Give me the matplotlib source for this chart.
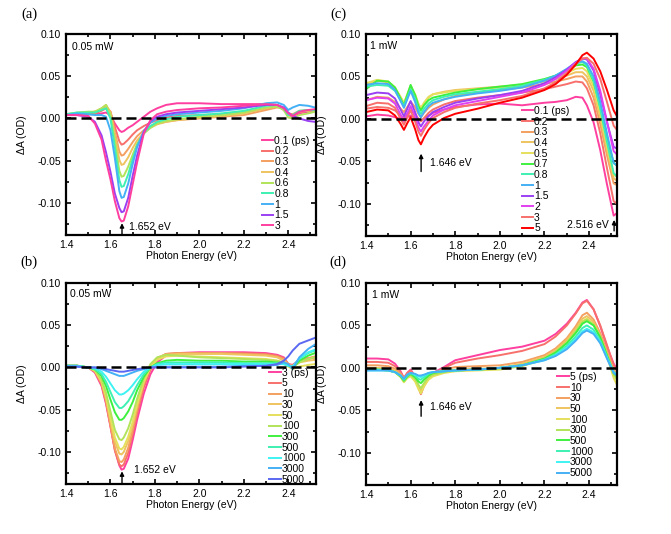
import matplotlib
matplotlib.use("Agg")
import matplotlib.pyplot as plt
from matplotlib.ticker import MultipleLocator, FormatStrFormatter

plt.rcParams['font.family'] = ['Liberation Sans', 'DejaVu Sans']

# ---------------- data ----------------
E_ab = [1.40, 1.45, 1.50, 1.53, 1.56, 1.58, 1.60, 1.62, 1.64, 1.65, 1.66, 1.68, 1.70, 1.72, 1.75,
        1.78, 1.81, 1.85, 1.90, 2.00, 2.10, 2.20, 2.30, 2.35, 2.38, 2.40, 2.42, 2.45, 2.49, 2.52]
E_cd = [1.40, 1.45, 1.50, 1.53, 1.555, 1.57, 1.585, 1.60, 1.62, 1.635, 1.646, 1.66, 1.68, 1.70, 1.75,
        1.80, 1.90, 2.00, 2.10, 2.20, 2.25, 2.30, 2.34, 2.37, 2.39, 2.42, 2.45, 2.48, 2.51, 2.525]

labels_a = ["0.1 (ps)", "0.2", "0.3", "0.4", "0.6", "0.8", "1", "1.5", "3"]
dA_a = [
    [0.004, 0.005, 0.005, 0.005, 0.006, 0.007, 0.004, -0.006, -0.014, -0.016, -0.015, -0.011, -0.008, -0.004, 0.002, 0.008, 0.012, 0.016, 0.018, 0.018, 0.017, 0.017, 0.017, 0.016, 0.010, 0.004, 0.002, 0.006, 0.008, 0.010],
    [0.004, 0.005, 0.006, 0.006, 0.009, 0.012, 0.008, -0.010, -0.027, -0.031, -0.030, -0.025, -0.019, -0.014, -0.009, -0.005, -0.002, 0.001, 0.003, 0.004, 0.005, 0.007, 0.012, 0.014, 0.012, 0.006, 0.004, 0.008, 0.009, 0.010],
    [0.004, 0.006, 0.007, 0.008, 0.011, 0.015, 0.008, -0.016, -0.039, -0.044, -0.043, -0.036, -0.028, -0.021, -0.014, -0.009, -0.006, -0.004, -0.002, 0.000, 0.002, 0.004, 0.010, 0.013, 0.012, 0.006, 0.005, 0.009, 0.010, 0.010],
    [0.005, 0.006, 0.007, 0.008, 0.012, 0.016, 0.007, -0.020, -0.049, -0.055, -0.054, -0.046, -0.035, -0.026, -0.017, -0.011, -0.007, -0.004, -0.002, 0.001, 0.003, 0.006, 0.012, 0.014, 0.012, 0.004, 0.003, 0.008, 0.009, 0.010],
    [0.005, 0.007, 0.008, 0.008, 0.012, 0.016, 0.005, -0.026, -0.062, -0.069, -0.068, -0.057, -0.043, -0.030, -0.018, -0.011, -0.006, -0.003, -0.001, 0.002, 0.004, 0.007, 0.013, 0.014, 0.010, 0.001, 0.000, 0.004, 0.006, 0.008],
    [0.005, 0.007, 0.007, 0.007, 0.010, 0.012, 0.000, -0.035, -0.073, -0.081, -0.080, -0.066, -0.048, -0.032, -0.017, -0.009, -0.004, -0.001, 0.002, 0.004, 0.006, 0.009, 0.015, 0.016, 0.012, 0.004, 0.004, 0.009, 0.010, 0.010],
    [0.004, 0.006, 0.005, 0.004, 0.004, 0.002, -0.014, -0.047, -0.086, -0.094, -0.093, -0.077, -0.054, -0.034, -0.015, -0.005, 0.000, 0.003, 0.005, 0.007, 0.009, 0.012, 0.018, 0.019, 0.016, 0.010, 0.013, 0.016, 0.015, 0.013],
    [0.004, 0.004, 0.002, -0.004, -0.020, -0.040, -0.063, -0.089, -0.106, -0.111, -0.110, -0.094, -0.068, -0.044, -0.016, -0.003, 0.002, 0.005, 0.007, 0.009, 0.011, 0.013, 0.016, 0.016, 0.013, 0.007, 0.003, 0.000, -0.003, -0.004],
    [0.004, 0.004, 0.003, -0.006, -0.025, -0.050, -0.072, -0.098, -0.118, -0.122, -0.121, -0.104, -0.078, -0.052, -0.018, -0.002, 0.005, 0.008, 0.010, 0.012, 0.013, 0.015, 0.017, 0.016, 0.012, 0.006, 0.003, 0.008, 0.010, 0.011],
]

labels_b = ["3 (ps)", "5", "10", "30", "50", "100", "300", "500", "1000", "3000", "5000"]
dA_b = [
    [0.002, 0.002, 0.000, -0.006, -0.022, -0.043, -0.070, -0.098, -0.116, -0.121, -0.120, -0.108, -0.086, -0.062, -0.031, -0.008, 0.006, 0.014, 0.017, 0.018, 0.018, 0.018, 0.017, 0.015, 0.012, 0.004, 0.003, 0.009, 0.011, 0.012],
    [0.002, 0.002, 0.000, -0.005, -0.020, -0.041, -0.069, -0.098, -0.115, -0.117, -0.115, -0.101, -0.079, -0.055, -0.024, -0.003, 0.010, 0.016, 0.017, 0.017, 0.017, 0.017, 0.016, 0.014, 0.011, 0.004, 0.002, 0.008, 0.010, 0.012],
    [0.002, 0.002, 0.000, -0.004, -0.019, -0.039, -0.068, -0.096, -0.111, -0.112, -0.109, -0.095, -0.074, -0.050, -0.019, 0.000, 0.011, 0.016, 0.017, 0.017, 0.017, 0.016, 0.015, 0.013, 0.010, 0.004, 0.002, 0.008, 0.011, 0.013],
    [0.002, 0.002, 0.000, -0.004, -0.017, -0.036, -0.063, -0.088, -0.102, -0.103, -0.100, -0.087, -0.068, -0.045, -0.017, 0.001, 0.011, 0.015, 0.016, 0.016, 0.016, 0.015, 0.014, 0.012, 0.008, 0.003, 0.001, 0.006, 0.008, 0.009],
    [0.002, 0.002, 0.000, -0.004, -0.016, -0.034, -0.059, -0.083, -0.096, -0.097, -0.094, -0.082, -0.064, -0.043, -0.017, 0.000, 0.009, 0.013, 0.014, 0.013, 0.012, 0.011, 0.010, 0.008, 0.005, 0.001, -0.002, 0.001, 0.003, 0.004],
    [0.002, 0.002, 0.000, -0.003, -0.014, -0.030, -0.052, -0.074, -0.085, -0.086, -0.083, -0.072, -0.056, -0.037, -0.013, 0.004, 0.012, 0.015, 0.014, 0.012, 0.011, 0.010, 0.009, 0.008, 0.006, 0.002, 0.000, 0.006, 0.010, 0.012],
    [0.002, 0.002, 0.000, -0.002, -0.010, -0.022, -0.038, -0.053, -0.062, -0.062, -0.060, -0.052, -0.041, -0.027, -0.011, 0.000, 0.005, 0.008, 0.009, 0.008, 0.008, 0.007, 0.007, 0.006, 0.005, 0.002, 0.000, 0.008, 0.014, 0.017],
    [0.002, 0.002, 0.000, -0.002, -0.008, -0.017, -0.029, -0.041, -0.048, -0.048, -0.046, -0.040, -0.031, -0.021, -0.008, 0.000, 0.004, 0.006, 0.006, 0.006, 0.006, 0.005, 0.005, 0.005, 0.004, 0.002, 0.001, 0.010, 0.017, 0.020],
    [0.002, 0.002, 0.000, -0.001, -0.005, -0.011, -0.019, -0.027, -0.032, -0.032, -0.031, -0.027, -0.021, -0.014, -0.005, 0.000, 0.003, 0.004, 0.004, 0.004, 0.004, 0.004, 0.004, 0.004, 0.004, 0.002, 0.001, 0.011, 0.018, 0.021],
    [0.001, 0.001, 0.000, 0.000, -0.002, -0.004, -0.006, -0.008, -0.010, -0.010, -0.010, -0.008, -0.006, -0.004, -0.002, 0.000, 0.001, 0.001, 0.001, 0.001, 0.001, 0.002, 0.002, 0.003, 0.006, 0.004, -0.002, 0.012, 0.022, 0.027],
    [0.001, 0.001, 0.000, 0.000, -0.001, -0.002, -0.003, -0.004, -0.005, -0.005, -0.005, -0.004, -0.003, -0.002, -0.001, 0.000, 0.000, 0.000, 0.000, 0.000, 0.000, 0.001, 0.002, 0.004, 0.008, 0.013, 0.020, 0.028, 0.032, 0.035],
]

labels_c = ["0.1 (ps)", "0.2", "0.3", "0.4", "0.5", "0.7", "0.8", "1", "1.5", "2", "3", "5"]
dA_c = [
    [0.003, 0.005, 0.004, 0.002, 0.000, -0.002, 0.002, 0.004, 0.001, -0.001, -0.002, 0.000, 0.004, 0.007, 0.011, 0.014, 0.017, 0.018, 0.016, 0.019, 0.020, 0.022, 0.026, 0.025, 0.016, -0.004, -0.037, -0.077, -0.114, -0.111],
    [0.012, 0.014, 0.013, 0.010, 0.004, 0.000, 0.006, 0.010, 0.006, 0.000, -0.003, 0.001, 0.007, 0.011, 0.017, 0.021, 0.025, 0.028, 0.031, 0.035, 0.038, 0.041, 0.044, 0.043, 0.036, 0.016, -0.017, -0.058, -0.097, -0.100],
    [0.022, 0.026, 0.025, 0.020, 0.012, 0.008, 0.014, 0.020, 0.014, 0.006, 0.002, 0.007, 0.013, 0.017, 0.023, 0.027, 0.031, 0.034, 0.037, 0.041, 0.044, 0.047, 0.050, 0.050, 0.044, 0.025, -0.006, -0.043, -0.076, -0.078],
    [0.040, 0.045, 0.043, 0.036, 0.025, 0.018, 0.028, 0.038, 0.028, 0.017, 0.012, 0.018, 0.025, 0.029, 0.032, 0.034, 0.036, 0.038, 0.040, 0.044, 0.047, 0.051, 0.055, 0.055, 0.050, 0.033, 0.002, -0.036, -0.070, -0.073],
    [0.042, 0.046, 0.044, 0.037, 0.026, 0.019, 0.029, 0.039, 0.029, 0.018, 0.013, 0.019, 0.026, 0.029, 0.031, 0.033, 0.035, 0.037, 0.040, 0.045, 0.049, 0.054, 0.059, 0.060, 0.056, 0.038, 0.007, -0.032, -0.066, -0.068],
    [0.035, 0.045, 0.044, 0.037, 0.024, 0.016, 0.028, 0.040, 0.028, 0.015, 0.010, 0.016, 0.022, 0.025, 0.028, 0.031, 0.035, 0.038, 0.041, 0.047, 0.051, 0.057, 0.063, 0.064, 0.061, 0.044, 0.014, -0.022, -0.052, -0.055],
    [0.038, 0.040, 0.039, 0.033, 0.022, 0.015, 0.025, 0.035, 0.024, 0.011, 0.006, 0.012, 0.018, 0.022, 0.026, 0.029, 0.032, 0.035, 0.039, 0.046, 0.051, 0.058, 0.065, 0.067, 0.063, 0.045, 0.012, -0.027, -0.064, -0.068],
    [0.040, 0.042, 0.041, 0.034, 0.021, 0.013, 0.023, 0.033, 0.020, 0.007, 0.002, 0.008, 0.015, 0.019, 0.023, 0.026, 0.030, 0.033, 0.037, 0.045, 0.051, 0.059, 0.066, 0.068, 0.065, 0.050, 0.020, -0.017, -0.052, -0.055],
    [0.028, 0.031, 0.030, 0.024, 0.011, 0.003, 0.012, 0.021, 0.008, -0.004, -0.009, -0.003, 0.003, 0.008, 0.014, 0.019, 0.024, 0.028, 0.033, 0.042, 0.049, 0.058, 0.067, 0.071, 0.070, 0.057, 0.029, -0.004, -0.033, -0.035],
    [0.022, 0.025, 0.024, 0.018, 0.005, -0.003, 0.006, 0.015, 0.002, -0.010, -0.015, -0.009, -0.002, 0.004, 0.011, 0.016, 0.021, 0.026, 0.031, 0.040, 0.047, 0.057, 0.066, 0.071, 0.071, 0.059, 0.033, -0.003, -0.038, -0.042],
    [0.015, 0.019, 0.018, 0.013, 0.000, -0.007, 0.002, 0.010, -0.003, -0.015, -0.020, -0.013, -0.005, 0.001, 0.008, 0.013, 0.018, 0.022, 0.027, 0.036, 0.043, 0.054, 0.065, 0.071, 0.072, 0.065, 0.047, 0.020, -0.008, -0.013],
    [0.008, 0.011, 0.010, 0.004, -0.006, -0.013, -0.005, 0.002, -0.012, -0.025, -0.030, -0.022, -0.013, -0.007, 0.001, 0.006, 0.012, 0.019, 0.025, 0.034, 0.041, 0.052, 0.064, 0.075, 0.078, 0.071, 0.056, 0.034, 0.010, 0.003],
]

labels_d = ["5 (ps)", "10", "30", "50", "100", "300", "500", "1000", "3000", "5000"]
dA_d = [
    [0.011, 0.011, 0.010, 0.005, -0.004, -0.012, -0.006, -0.002, -0.010, -0.022, -0.030, -0.020, -0.011, -0.006, 0.001, 0.009, 0.015, 0.021, 0.025, 0.032, 0.040, 0.052, 0.065, 0.077, 0.080, 0.069, 0.049, 0.025, 0.005, -0.002],
    [0.007, 0.007, 0.006, 0.002, -0.005, -0.012, -0.006, -0.003, -0.011, -0.023, -0.031, -0.021, -0.012, -0.007, 0.000, 0.006, 0.011, 0.015, 0.020, 0.028, 0.037, 0.050, 0.064, 0.076, 0.079, 0.069, 0.050, 0.027, 0.003, -0.004],
    [0.003, 0.003, 0.002, -0.001, -0.007, -0.013, -0.008, -0.006, -0.013, -0.023, -0.029, -0.021, -0.012, -0.007, -0.002, 0.001, 0.002, 0.003, 0.007, 0.015, 0.023, 0.035, 0.049, 0.062, 0.065, 0.057, 0.041, 0.020, -0.003, -0.007],
    [0.000, 0.000, -0.001, -0.003, -0.009, -0.015, -0.010, -0.008, -0.014, -0.023, -0.028, -0.020, -0.012, -0.008, -0.004, -0.002, -0.001, 0.000, 0.005, 0.013, 0.021, 0.033, 0.046, 0.058, 0.061, 0.054, 0.038, 0.017, -0.006, -0.012],
    [-0.002, -0.002, -0.003, -0.005, -0.011, -0.017, -0.012, -0.010, -0.016, -0.025, -0.030, -0.022, -0.014, -0.010, -0.006, -0.004, -0.003, -0.002, 0.002, 0.010, 0.018, 0.030, 0.043, 0.055, 0.058, 0.051, 0.036, 0.014, -0.012, -0.020],
    [-0.002, -0.002, -0.003, -0.005, -0.010, -0.016, -0.011, -0.008, -0.013, -0.020, -0.024, -0.018, -0.011, -0.008, -0.005, -0.003, -0.002, -0.001, 0.003, 0.011, 0.019, 0.030, 0.043, 0.054, 0.057, 0.051, 0.036, 0.015, -0.008, -0.014],
    [-0.002, -0.002, -0.003, -0.005, -0.010, -0.015, -0.010, -0.007, -0.011, -0.016, -0.018, -0.014, -0.009, -0.006, -0.004, -0.003, -0.002, 0.000, 0.003, 0.011, 0.018, 0.029, 0.041, 0.052, 0.055, 0.050, 0.036, 0.015, -0.006, -0.010],
    [-0.002, -0.002, -0.003, -0.005, -0.009, -0.014, -0.009, -0.006, -0.009, -0.013, -0.014, -0.011, -0.007, -0.005, -0.004, -0.003, -0.002, 0.000, 0.003, 0.010, 0.016, 0.026, 0.037, 0.047, 0.050, 0.045, 0.032, 0.013, -0.005, -0.009],
    [-0.003, -0.003, -0.003, -0.005, -0.009, -0.013, -0.008, -0.006, -0.008, -0.010, -0.011, -0.009, -0.006, -0.005, -0.004, -0.003, -0.002, 0.000, 0.003, 0.009, 0.015, 0.024, 0.034, 0.043, 0.046, 0.042, 0.030, 0.012, -0.005, -0.008],
    [-0.003, -0.003, -0.003, -0.005, -0.009, -0.013, -0.008, -0.006, -0.007, -0.009, -0.009, -0.008, -0.006, -0.005, -0.004, -0.003, -0.002, 0.000, 0.003, 0.009, 0.014, 0.022, 0.032, 0.041, 0.044, 0.040, 0.029, 0.011, -0.006, -0.009],
]

# ---------------- styles ----------------
PINK, SALMON, ORANGE, LORANGE = '#ff3fa0', '#f7706c', '#f4a060', '#efc35f'
YELLOW, LGREEN, GREEN, AQUA = '#e5e05c', '#b2e35a', '#3ef03e', '#3ef0b2'
CYAN, LBLUE, BLUE, PURPLE, MAGENTA, RED = '#3ef2f2', '#44b0f5', '#5a68f2', '#9a40f2', '#e040f0', '#ff0000'

cols_a = [PINK, SALMON, ORANGE, LORANGE, LGREEN, AQUA, LBLUE, PURPLE, PINK]
cols_b = [PINK, SALMON, ORANGE, LORANGE, YELLOW, LGREEN, GREEN, AQUA, CYAN, LBLUE, BLUE]
cols_c = [PINK, SALMON, ORANGE, LORANGE, YELLOW, GREEN, AQUA, LBLUE, PURPLE, MAGENTA, SALMON, RED]
cols_d = [PINK, SALMON, ORANGE, LORANGE, YELLOW, LGREEN, GREEN, AQUA, CYAN, LBLUE]

FS = 7.5
W, H = 671, 534
fig = plt.figure(figsize=(W / 100, H / 100), dpi=100)


def make_ax(l, t, r, b):
    return fig.add_axes([l / W, 1 - b / H, (r - l) / W, (b - t) / H])


ax_a = make_ax(66, 34, 316, 235)
ax_c = make_ax(366, 34, 617, 236)
ax_b = make_ax(66, 283, 316, 484)
ax_d = make_ax(366, 283, 617, 485)


def style(ax):
    ax.set_xlim(1.4, 2.525)
    ax.set_ylim(-0.138, 0.10)
    ax.xaxis.set_major_locator(MultipleLocator(0.2))
    ax.xaxis.set_minor_locator(MultipleLocator(0.1))
    ax.yaxis.set_major_locator(MultipleLocator(0.05))
    ax.yaxis.set_minor_locator(MultipleLocator(0.025))
    ax.xaxis.set_major_formatter(FormatStrFormatter('%.1f'))
    ax.yaxis.set_major_formatter(FormatStrFormatter('%.2f'))
    ax.tick_params(which='both', direction='in', top=True, right=True, width=1.2,
                   labelsize=FS, pad=3.5)
    ax.tick_params(which='major', length=3.5)
    ax.tick_params(which='minor', length=2)
    for s in ax.spines.values():
        s.set_linewidth(1.6)
    ax.set_xlabel('Photon Energy (eV)', fontsize=FS)
    ax.set_ylabel('ΔA (OD)', fontsize=FS)
    ax.xaxis.set_label_coords(0.5, -0.08)
    ax.yaxis.set_label_coords(-0.155, 0.5)
    ax.axhline(0, color='k', lw=1.8, ls=(0, (4, 2)), zorder=5)


def draw(ax, E, series, labels, cols, lx, ly):
    for y, lab, c in zip(series, labels, cols):
        ax.plot(E, y, color=c, lw=1.4, label=lab)
    ax.legend(loc='upper left', bbox_to_anchor=(lx, ly), frameon=False, fontsize=FS,
              handlelength=1.1, handletextpad=0.1, labelspacing=0.065,
              borderaxespad=0, borderpad=0)


for ax in (ax_a, ax_b, ax_c, ax_d):
    style(ax)

draw(ax_a, E_ab, dA_a, labels_a, cols_a, 0.783, 0.495)
draw(ax_b, E_ab, dA_b, labels_b, cols_b, 0.813, 0.578)
draw(ax_c, E_cd, dA_c, labels_c, cols_c, 0.620, 0.644)
draw(ax_d, E_cd, dA_d, labels_d, cols_d, 0.762, 0.559)

arrow = dict(arrowstyle='-|>', color='k', lw=1.0, mutation_scale=6, shrinkA=0, shrinkB=0)
ax_a.annotate('', xy=(1.652, -0.124), xytext=(1.652, -0.137), arrowprops=arrow)
ax_a.text(1.685, -0.128, '1.652 eV', fontsize=FS, va='center')
ax_b.annotate('', xy=(1.652, -0.123), xytext=(1.652, -0.137), arrowprops=arrow)
ax_b.text(1.707, -0.122, '1.652 eV', fontsize=FS, va='center')
ax_c.annotate('', xy=(1.647, -0.041), xytext=(1.647, -0.062), arrowprops=arrow)
ax_c.text(1.687, -0.052, '1.646 eV', fontsize=FS, va='center')
ax_c.annotate('', xy=(2.512, -0.119), xytext=(2.512, -0.132), arrowprops=arrow)
ax_c.text(2.490, -0.1255, '2.516 eV', fontsize=FS, va='center', ha='right')
ax_d.annotate('', xy=(1.647, -0.038), xytext=(1.647, -0.057), arrowprops=arrow)
ax_d.text(1.687, -0.046, '1.646 eV', fontsize=FS, va='center')

ax_a.text(0.023, 0.937, '0.05 mW', transform=ax_a.transAxes, fontsize=FS, va='center')
ax_b.text(0.018, 0.945, '0.05 mW', transform=ax_b.transAxes, fontsize=FS, va='center')
ax_c.text(0.016, 0.94, '1 mW', transform=ax_c.transAxes, fontsize=FS, va='center')
ax_d.text(0.023, 0.94, '1 mW', transform=ax_d.transAxes, fontsize=FS, va='center')

pfont = dict(family=['Liberation Serif', 'DejaVu Serif'], fontsize=10.5, ha='center', va='center')
fig.text(29 / W, 1 - 14 / H, '(a)', **pfont)
fig.text(338 / W, 1 - 14 / H, '(c)', **pfont)
fig.text(29 / W, 1 - 262 / H, '(b)', **pfont)
fig.text(338 / W, 1 - 262 / H, '(d)', **pfont)

fig.savefig('out.png', dpi=100)
